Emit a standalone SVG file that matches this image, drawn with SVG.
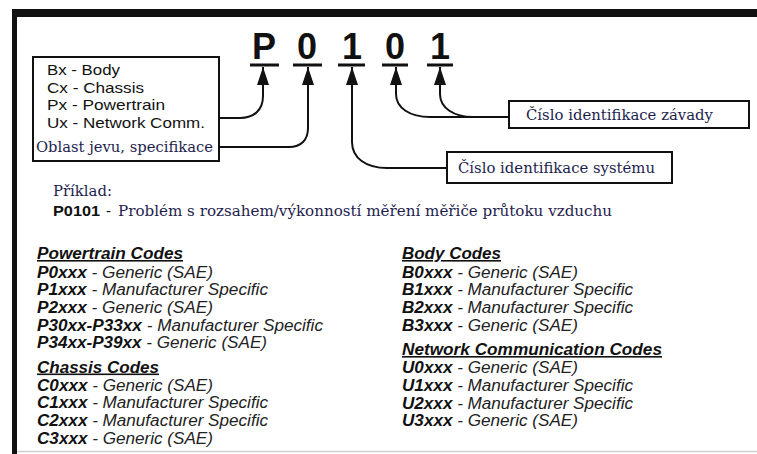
<svg xmlns="http://www.w3.org/2000/svg" width="757" height="454" viewBox="0 0 757 454">
<defs>
<style>
.sans{font-family:"Liberation Sans",Arial,sans-serif;fill:#111}
.serif{font-family:"DejaVu Serif","Liberation Serif",serif;fill:#1e1e4e}
.big{font-family:"Liberation Sans",Arial,sans-serif;font-weight:bold;font-size:36px;fill:#111;text-anchor:middle}
.box{fill:#fff;stroke:#111;stroke-width:2}
.conn{fill:none;stroke:#111;stroke-width:2}
.bar{fill:#111}
.list{font-family:"Liberation Sans",Arial,sans-serif;font-size:16px;font-style:italic;fill:#222}
.list .c{font-weight:bold;fill:#111}
.head{font-family:"Liberation Sans",Arial,sans-serif;font-size:16px;font-style:italic;font-weight:bold;fill:#111;text-decoration:underline}
</style>
<marker id="arr" viewBox="0 0 18 12" refX="18" refY="6" markerWidth="18" markerHeight="12" markerUnits="userSpaceOnUse" orient="auto">
<path d="M0,0 L18,6 L0,12 Z" fill="#111"/>
</marker>
</defs>
<rect x="0" y="0" width="757" height="454" fill="#fff"/>
<g id="frame">
<rect x="12" y="9" width="745" height="8" fill="#111"/>
<rect x="12" y="9" width="5" height="445" fill="#111"/>
<line x1="17" y1="451.5" x2="757" y2="451.5" stroke="#d0d0d0" stroke-width="1.5"/>
</g>
<g id="code">
<text class="big" x="264" y="59">P</text>
<text class="big" x="307" y="59">0</text>
<text class="big" x="352" y="59">1</text>
<text class="big" x="395" y="59">0</text>
<text class="big" x="440" y="59">1</text>
<rect class="bar" x="250" y="63.5" width="29" height="3"/>
<rect class="bar" x="293" y="63.5" width="29" height="3"/>
<rect class="bar" x="338" y="63.5" width="27" height="3"/>
<rect class="bar" x="382" y="63.5" width="26" height="3"/>
<rect class="bar" x="427" y="63.5" width="26" height="3"/>
</g>
<g id="connectors">
<path class="conn" d="M219,118 H240 C254,118 263,110 263,96 V67" marker-end="url(#arr)"/>
<path class="conn" d="M219,147 H289 C301,147 308,140 308,128 V67" marker-end="url(#arr)"/>
<path class="conn" d="M447,168 H387 C366,168 352,158 352,142 V67" marker-end="url(#arr)"/>
<path class="conn" d="M509,117 H430 C410,117 396,108 396,94 V67" marker-end="url(#arr)"/>
<path class="conn" d="M473,117 C454,117 440,108 440,94 V67" marker-end="url(#arr)"/>
</g>
<g id="category-box">
<rect class="box" x="33" y="57" width="186" height="104"/>
<text class="sans" x="47" y="75" font-size="15" textLength="73" lengthAdjust="spacingAndGlyphs">Bx - Body</text>
<text class="sans" x="47" y="92.5" font-size="15" textLength="97" lengthAdjust="spacingAndGlyphs">Cx - Chassis</text>
<text class="sans" x="47" y="110" font-size="15" textLength="118" lengthAdjust="spacingAndGlyphs">Px - Powertrain</text>
<text class="sans" x="47" y="128" font-size="15" textLength="158" lengthAdjust="spacingAndGlyphs">Ux - Network Comm.</text>
<text class="serif" x="36" y="152" font-size="15" textLength="177" lengthAdjust="spacingAndGlyphs">Oblast jevu, specifikace</text>
</g>
<g id="fault-box">
<rect class="box" x="509" y="101" width="240" height="27"/>
<text class="serif" x="526" y="120" font-size="15" textLength="187" lengthAdjust="spacingAndGlyphs">Číslo identifikace závady</text>
</g>
<g id="system-box">
<rect class="box" x="447" y="152" width="225" height="31"/>
<text class="serif" x="458" y="173" font-size="15" textLength="197" lengthAdjust="spacingAndGlyphs">Číslo identifikace systému</text>
</g>
<g id="example">
<text class="serif" x="53" y="196" font-size="14" textLength="59" lengthAdjust="spacingAndGlyphs">Příklad:</text>
<text class="sans" x="53" y="216" font-size="15" font-weight="bold" textLength="47" lengthAdjust="spacingAndGlyphs">P0101</text>
<text class="sans" x="106" y="216" font-size="15">-</text>
<text class="serif" x="118" y="216" font-size="14.5" textLength="494" lengthAdjust="spacingAndGlyphs">Problém s rozsahem/výkonností měření měřiče průtoku vzduchu</text>
</g>
<g id="powertrain-codes">
<text class="head" x="37" y="259" textLength="146" lengthAdjust="spacingAndGlyphs">Powertrain Codes</text>
<text class="list" x="37" y="277.5" textLength="176" lengthAdjust="spacingAndGlyphs"><tspan class="c">P0xxx</tspan> - Generic (SAE)</text>
<text class="list" x="37" y="295.2" textLength="231" lengthAdjust="spacingAndGlyphs"><tspan class="c">P1xxx</tspan> - Manufacturer Specific</text>
<text class="list" x="37" y="312.9" textLength="176" lengthAdjust="spacingAndGlyphs"><tspan class="c">P2xxx</tspan> - Generic (SAE)</text>
<text class="list" x="37" y="330.6" textLength="286" lengthAdjust="spacingAndGlyphs"><tspan class="c">P30xx-P33xx</tspan> - Manufacturer Specific</text>
<text class="list" x="37" y="348.3" textLength="230" lengthAdjust="spacingAndGlyphs"><tspan class="c">P34xx-P39xx</tspan> - Generic (SAE)</text>
</g>
<g id="chassis-codes">
<text class="head" x="37" y="372.5" textLength="122" lengthAdjust="spacingAndGlyphs">Chassis Codes</text>
<text class="list" x="37" y="390.5" textLength="176" lengthAdjust="spacingAndGlyphs"><tspan class="c">C0xxx</tspan> - Generic (SAE)</text>
<text class="list" x="37" y="408.2" textLength="231" lengthAdjust="spacingAndGlyphs"><tspan class="c">C1xxx</tspan> - Manufacturer Specific</text>
<text class="list" x="37" y="425.9" textLength="231" lengthAdjust="spacingAndGlyphs"><tspan class="c">C2xxx</tspan> - Manufacturer Specific</text>
<text class="list" x="37" y="443.6" textLength="176" lengthAdjust="spacingAndGlyphs"><tspan class="c">C3xxx</tspan> - Generic (SAE)</text>
</g>
<g id="body-codes">
<text class="head" x="402" y="259" textLength="99" lengthAdjust="spacingAndGlyphs">Body Codes</text>
<text class="list" x="402" y="277.5" textLength="176" lengthAdjust="spacingAndGlyphs"><tspan class="c">B0xxx</tspan> - Generic (SAE)</text>
<text class="list" x="402" y="295.2" textLength="231" lengthAdjust="spacingAndGlyphs"><tspan class="c">B1xxx</tspan> - Manufacturer Specific</text>
<text class="list" x="402" y="312.9" textLength="231" lengthAdjust="spacingAndGlyphs"><tspan class="c">B2xxx</tspan> - Manufacturer Specific</text>
<text class="list" x="402" y="330.6" textLength="176" lengthAdjust="spacingAndGlyphs"><tspan class="c">B3xxx</tspan> - Generic (SAE)</text>
</g>
<g id="network-codes">
<text class="head" x="402" y="355" textLength="260" lengthAdjust="spacingAndGlyphs">Network Communication Codes</text>
<text class="list" x="402" y="373.3" textLength="176" lengthAdjust="spacingAndGlyphs"><tspan class="c">U0xxx</tspan> - Generic (SAE)</text>
<text class="list" x="402" y="391" textLength="231" lengthAdjust="spacingAndGlyphs"><tspan class="c">U1xxx</tspan> - Manufacturer Specific</text>
<text class="list" x="402" y="408.7" textLength="231" lengthAdjust="spacingAndGlyphs"><tspan class="c">U2xxx</tspan> - Manufacturer Specific</text>
<text class="list" x="402" y="426.4" textLength="176" lengthAdjust="spacingAndGlyphs"><tspan class="c">U3xxx</tspan> - Generic (SAE)</text>
</g>
</svg>
